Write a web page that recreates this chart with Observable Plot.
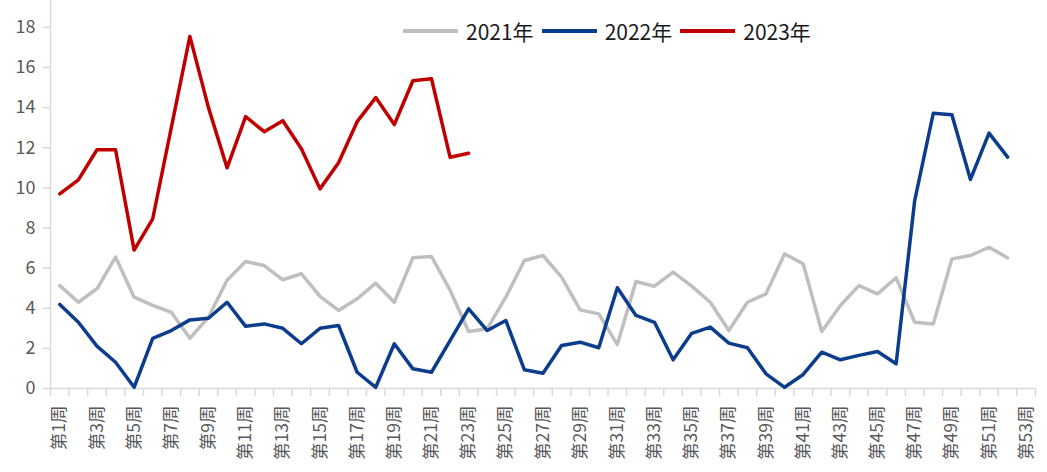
<!DOCTYPE html>
<html>
<head>
<meta charset="utf-8">
<script src="https://cdn.jsdelivr.net/npm/d3@7"></script>
<script src="https://cdn.jsdelivr.net/npm/@observablehq/plot@0.6"></script>
<style>
  html, body { margin: 0; padding: 0; background: #fff; }
  #wrap { position: relative; width: 1047px; height: 472px; font-family: "Noto Sans CJK SC", "Noto Sans", sans-serif; }
  #legend { position: absolute; top: 16px; left: 403px; display: flex; align-items: center; font-size: 21px; color: #1a1a1a; z-index: 2; }
  .item { display: flex; align-items: center; margin-right: 8px; }
  .sw { width: 55px; height: 3.5px; margin-right: 8px; }
</style>
</head>
<body>
<div id="wrap"><div id="legend"></div><div id="chart"></div></div>
<script>
const years = ["2021年", "2022年", "2023年"];
const colors = ["#bfbfbf", "#0b3d8c", "#c00000"];
const weekLabels = Array.from({length: 53}, (_, i) => `第${i + 1}周`);
const weeks = weekLabels.map((_, i) => i + 1);

const v2021 = [5.13, 4.3, 4.97, 6.55, 4.55, 4.14, 3.8, 2.5, 3.55, 5.4,
  6.33, 6.13, 5.42, 5.72, 4.59, 3.89, 4.47, 5.25, 4.3, 6.52,
  6.58, 4.9, 2.84, 2.98, 4.55, 6.38, 6.63, 5.55, 3.92, 3.72,
  2.19, 5.33, 5.1, 5.8, 5.1, 4.3, 2.89, 4.3, 4.72, 6.71,
  6.22, 2.84, 4.14, 5.13, 4.72, 5.52, 3.3, 3.22, 6.46, 6.63,
  7.04, 6.51];
const v2022 = [4.19, 3.3, 2.11, 1.31, 0.06, 2.5, 2.89, 3.42, 3.5, 4.3,
  3.1, 3.22, 3.0, 2.23, 3.0, 3.14, 0.81, 0.06, 2.23, 0.98,
  0.81, 2.39, 3.97, 2.89, 3.39, 0.93, 0.76, 2.14, 2.31, 2.03,
  5.02, 3.64, 3.3, 1.43, 2.75, 3.06, 2.26, 2.03, 0.73, 0.06,
  0.7, 1.81, 1.43, 1.65, 1.84, 1.23, 9.37, 13.72, 13.64, 10.42,
  12.73, 11.53];
const v2023 = [9.7, 10.4, 11.9, 11.9, 6.9, 8.46, 13.0, 17.55, 14.0, 11.0,
  13.55, 12.8, 13.35, 11.95, 9.95, 11.25, 13.3, 14.5, 13.16, 15.34,
  15.44, 11.53, 11.73];
const yTicks = [0, 2, 4, 6, 8, 10, 12, 14, 16, 18];

const series = [v2021, v2022, v2023];
const data = series.flatMap((vals, s) => vals.map((v, i) => ({week: weeks[i], value: v, year: years[s]})));

const oddWeeks = weeks.filter(w => w % 2 === 1);
const boundaries = [0, ...weeks].map(w => w + 0.5);

const chart = Plot.plot({
  width: 1047,
  height: 472,
  marginLeft: 50,
  marginRight: 12,
  marginTop: 0,
  marginBottom: 84,
  style: {fontFamily: "'Noto Sans CJK SC', 'Noto Sans', sans-serif", background: "#fff"},
  x: {type: "linear", domain: [0.5, 53.5]},
  y: {domain: [0, 19.34]},
  color: {domain: years, range: colors},
  marks: [
    Plot.ruleY([0], {stroke: "#d9d9d9", strokeWidth: 1.5}),
    Plot.ruleX([0.5], {stroke: "#d9d9d9", strokeWidth: 1.5, y1: 0, y2: 19.34}),
    Plot.axisY({ticks: yTicks, tickSize: 7, tickPadding: 8, stroke: "#d9d9d9", fill: "#595959", fontSize: 18, label: null, strokeWidth: 1.5}),
    Plot.axisX({ticks: boundaries, tickSize: 8, tickFormat: () => "", stroke: "#d9d9d9", strokeWidth: 1.5, label: null}),
    Plot.axisX({ticks: oddWeeks, tickSize: 0, tickPadding: 17, tickRotate: -90, tickFormat: d => weekLabels[d - 1], fill: "#595959", fontSize: 17.5, label: null}),
    Plot.line(data, {x: "week", y: "value", stroke: "year", z: "year", strokeWidth: 3.5, strokeLinejoin: "round", strokeLinecap: "round"})
  ]
});
document.getElementById("chart").appendChild(chart);

const legend = document.getElementById("legend");
years.forEach((y, i) => {
  const item = document.createElement("div");
  item.className = "item";
  item.innerHTML = `<div class="sw" style="background:${colors[i]}"></div><span>${y}</span>`;
  legend.appendChild(item);
});
</script>
</body>
</html>
